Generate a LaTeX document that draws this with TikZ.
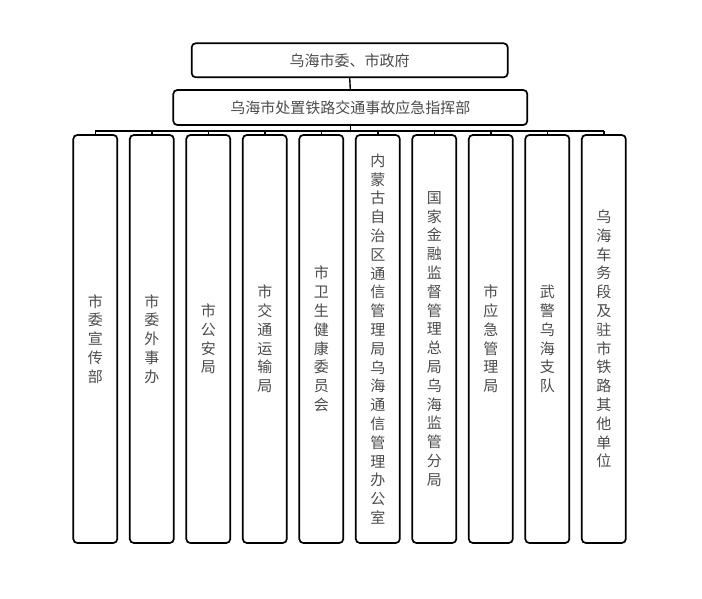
\documentclass[tikz,border=0pt]{standalone}
\usepackage{fontspec}
\newfontfamily\cjk{Noto Sans CJK SC}
\begin{document}
\begin{tikzpicture}[x=1pt,y=-1pt,
  box/.style={draw=black,line width=1.7pt,rounded corners=4pt,inner sep=0pt,
    text=black!70,font=\cjk\fontsize{15pt}{18.8pt}\selectfont},
  hbox/.style={box},
  col/.style={box,minimum width=44pt,minimum height=408pt,align=center},
  link/.style={draw=black,line width=1.4pt}]
\useasboundingbox[fill=white] (0,0) rectangle (702,599);
\node[hbox,minimum width=316pt,minimum height=34pt] (top) at (349.7,60.3) {乌海市委、市政府};
\node[hbox,minimum width=354pt,minimum height=35pt] (cmd) at (350.3,107.5) {乌海市处置铁路交通事故应急指挥部};
\node[col] (c1) at (95.3,339) {市\\委\\宣\\传\\部};
\node[col] (c2) at (151.8,339) {市\\委\\外\\事\\办};
\node[col] (c3) at (208.3,339) {市\\公\\安\\局};
\node[col] (c4) at (264.8,339) {市\\交\\通\\运\\输\\局};
\node[col] (c5) at (321.3,339) {市\\卫\\生\\健\\康\\委\\员\\会};
\node[col] (c6) at (377.8,339) {内\\蒙\\古\\自\\治\\区\\通\\信\\管\\理\\局\\乌\\海\\通\\信\\管\\理\\办\\公\\室};
\node[col] (c7) at (434.3,339) {国\\家\\金\\融\\监\\督\\管\\理\\总\\局\\乌\\海\\监\\管\\分\\局};
\node[col] (c8) at (490.8,339) {市\\应\\急\\管\\理\\局};
\node[col] (c9) at (547.3,339) {武\\警\\乌\\海\\支\\队};
\node[col] (c10) at (603.8,339) {乌\\海\\车\\务\\段\\及\\驻\\市\\铁\\路\\其\\他\\单\\位};
\coordinate (bus) at (350.5,131);
\draw[link] (top.south) -- (cmd.north);
\draw[link] (cmd.south) -- (cmd.south |- bus);
\draw[link] (c1.north |- bus) -- (c10.north |- bus);
\foreach \i in {1,...,10} {\draw[link] (c\i.north |- bus) -- (c\i.north);}
\end{tikzpicture}
\end{document}
